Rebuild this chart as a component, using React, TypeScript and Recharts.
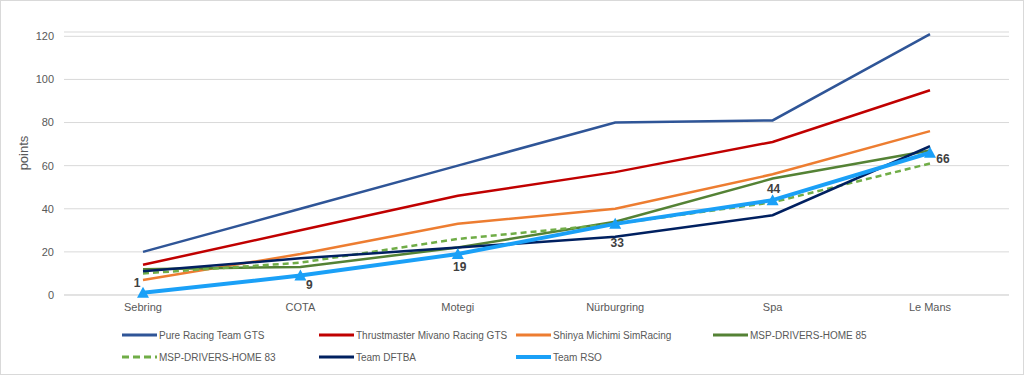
import React from 'react';
import { LineChart, Line, XAxis, YAxis, CartesianGrid, LabelList } from 'recharts';

const races = ['Sebring', 'COTA', 'Motegi', 'Nürburgring', 'Spa', 'Le Mans'];

const pureRacing = [20, 40, 60, 80, 81, 121];
const thrustmaster = [14, 30, 46, 57, 71, 95];
const shinya = [7, 19, 33, 40, 56, 76];
const msp85 = [12, 13, 22, 34, 54, 67];
const msp83 = [10, 15, 26, 33, 43, 61];
const dftba = [11, 17, 22, 27, 37, 69];
const rso = [1, 9, 19, 33, 44, 66];

const yTicks = [0, 20, 40, 60, 80, 100, 120];

const RSO_COLOR = '#1AA0F7';
const TEXT = '#595959';
const FONT = '"Liberation Sans", Arial, sans-serif';

type Series = { key: string; name: string; values: number[]; color: string; width: number; dash?: string };

const series: Series[] = [
  { key: 'pure', name: 'Pure Racing Team GTS', values: pureRacing, color: '#2F5597', width: 2.5 },
  { key: 'thrust', name: 'Thrustmaster Mivano Racing GTS', values: thrustmaster, color: '#C00000', width: 2.5 },
  { key: 'shinya', name: 'Shinya Michimi SimRacing', values: shinya, color: '#ED7D31', width: 2.5 },
  { key: 'msp85', name: 'MSP-DRIVERS-HOME 85', values: msp85, color: '#548235', width: 2.5 },
  { key: 'msp83', name: 'MSP-DRIVERS-HOME 83', values: msp83, color: '#70AD47', width: 2.5, dash: '6 4' },
  { key: 'dftba', name: 'Team DFTBA', values: dftba, color: '#002060', width: 2.5 },
  { key: 'rso', name: 'Team RSO', values: rso, color: RSO_COLOR, width: 4 },
];

const data = races.map((race, i) => {
  const row: Record<string, string | number> = { race };
  series.forEach((s) => { row[s.key] = s.values[i]; });
  return row;
});

// where each RSO label sits relative to its marker
const labelOffsets = [
  [-6, -10], [9, 9], [2, 13], [2, 19], [1, -11], [13, 6],
];

const Triangle = (props: any) => {
  const { cx, cy, index } = props;
  if (cx == null || cy == null) return null;
  return (
    <path
      key={`tri-${index}`}
      d={`M${cx},${cy - 6} L${cx + 6},${cy + 5} L${cx - 6},${cy + 5} Z`}
      fill={RSO_COLOR}
    />
  );
};

const RsoLabel = (props: any) => {
  const { x, y, value, index } = props;
  const [dx, dy] = labelOffsets[index] || [0, -10];
  return (
    <text
      x={x + dx}
      y={y + dy}
      textAnchor="middle"
      dominantBaseline="central"
      fontFamily={FONT}
      fontSize={12}
      fontWeight="bold"
      fill="#404040"
    >
      {value}
    </text>
  );
};

const YTitle = () => (
  <text
    x={23}
    y={153}
    transform="rotate(-90 23 153)"
    textAnchor="middle"
    dominantBaseline="central"
    fontFamily={FONT}
    fontSize={13}
    fill={TEXT}
  >
    points
  </text>
);

const LegendSwatch = ({ s }: { s: Series }) => (
  <svg width={35} height={8} style={{ flex: 'none' }}>
    <line
      x1={0}
      x2={35}
      y1={4}
      y2={4}
      stroke={s.color}
      strokeWidth={s.key === 'rso' ? 4 : 3}
      strokeDasharray={s.dash ? '7 4' : undefined}
      strokeLinecap={s.key === 'rso' ? 'round' : 'butt'}
    />
  </svg>
);

export default function App() {
  return (
    <div style={{ position: 'relative', width: 1024, height: 375, background: '#fff', overflow: 'hidden' }}>
      <style>{`body{margin:0}`}</style>
      <LineChart width={1024} height={375} data={data} margin={{ top: 32, right: 15, bottom: 50, left: 0 }}>
        <CartesianGrid vertical={false} stroke="#D9D9D9" strokeWidth={1} />
        <XAxis
          dataKey="race"
          height={30}
          tickLine={false}
          axisLine={{ stroke: '#D9D9D9' }}
          tick={{ fill: TEXT, fontSize: 11, fontFamily: FONT }}
          tickMargin={2}
          interval={0}
          padding={{ left: 79, right: 79 }}
        />
        <YAxis
          width={64}
          domain={[0, 122]}
          ticks={yTicks}
          tickLine={false}
          axisLine={false}
          tick={{ fill: TEXT, fontSize: 11, fontFamily: FONT }}
          tickMargin={4}
        />
        {series.map((s) => (
          <Line
            key={s.key}
            dataKey={s.key}
            name={s.name}
            type="linear"
            stroke={s.color}
            strokeWidth={s.width}
            strokeDasharray={s.dash}
            dot={s.key === 'rso' ? <Triangle /> : false}
            activeDot={false}
            isAnimationActive={false}
          >
            {s.key === 'rso' && <LabelList dataKey="rso" content={<RsoLabel />} />}
          </Line>
        ))}
        <YTitle />
      </LineChart>
      <div
        style={{
          position: 'absolute',
          left: 122,
          top: 325,
          display: 'grid',
          gridTemplateColumns: 'repeat(4, 197px)',
          rowGap: 2,
          fontFamily: FONT,
          fontSize: 10,
          color: TEXT,
        }}
      >
        {series.map((s) => (
          <div key={s.key} style={{ display: 'flex', alignItems: 'center', height: 20, whiteSpace: 'nowrap' }}>
            <LegendSwatch s={s} />
            <span style={{ marginLeft: 2 }}>{s.name}</span>
          </div>
        ))}
      </div>
      <div
        style={{
          position: 'absolute',
          inset: 0,
          border: '1px solid #D9D9D9',
          pointerEvents: 'none',
        }}
      />
    </div>
  );
}
